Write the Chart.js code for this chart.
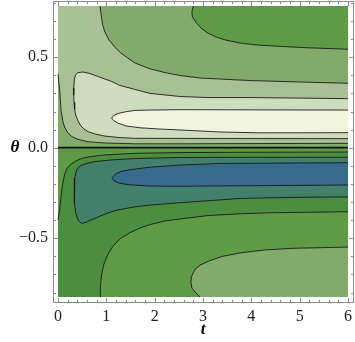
<!DOCTYPE html>
<html>
<head>
<meta charset="utf-8">
<script src="https://cdn.jsdelivr.net/npm/chart.js@4.4.1/dist/chart.umd.min.js"></script>
<style>
  html, body { margin: 0; padding: 0; background: #fff; }
  #wrap { width: 355px; height: 342px; }
</style>
</head>
<body>
<div id="wrap"><canvas id="contour"></canvas></div>
<script>
// plotted range of the contour picture
const tRange = [0, 6];
const thetaRange = [-0.825, 0.783];

// frame ticks
const tTicks = [0, 1, 2, 3, 4, 5, 6];
const tTickLabels = ['0', '1', '2', '3', '4', '5', '6'];
const thetaTicks = [-0.5, 0, 0.5];
const thetaTickLabels = ['\u22120.5', '0.0', '0.5'];

// contour lines, as [t, theta]
const zeroLine = [[0, 0], [6, 0]];
const lineA = [[0, 0.407], [0.04, 0.302], [0.062, 0.208], [0.103, 0.142], [0.145, 0.109], [0.207, 0.081],
  [0.29, 0.061], [0.414, 0.046], [0.62, 0.033], [0.97, 0.026], [1.59, 0.0215], [2.52, 0.0215], [3.97, 0.0227], [6, 0.0243]];
const lineB = [[6, 0.271], [5.0, 0.274], [3.97, 0.277], [3.1, 0.277], [2.52, 0.283], [1.9, 0.30], [1.59, 0.322],
  [1.28, 0.344], [1.11, 0.366], [0.87, 0.389], [0.66, 0.41], [0.517, 0.418], [0.414, 0.415], [0.362, 0.402],
  [0.337, 0.374], [0.327, 0.33], [0.326, 0.29], [0.332, 0.25], [0.345, 0.212], [0.366, 0.181], [0.414, 0.148], [0.466, 0.123],
  [0.538, 0.103], [0.627, 0.088], [0.766, 0.076], [0.97, 0.064], [1.28, 0.056], [1.59, 0.052], [2.94, 0.051], [6, 0.050]];
const lineYellow = [[6, 0.208], [3.97, 0.209], [2.52, 0.21], [1.9, 0.208], [1.59, 0.206], [1.41, 0.199], [1.24, 0.189],
  [1.15, 0.178], [1.11, 0.164], [1.15, 0.150], [1.24, 0.136], [1.41, 0.12], [1.7, 0.11], [2.11, 0.103], [2.52, 0.098],
  [3.35, 0.087], [4.18, 0.082], [6, 0.083]];
const lineTop1 = [[0.869, 0.783], [0.89, 0.739], [0.92, 0.683], [0.97, 0.639], [1.055, 0.595], [1.18, 0.554], [1.3, 0.523],
  [1.43, 0.498], [1.59, 0.468], [1.9, 0.436], [2.21, 0.415], [2.52, 0.399], [2.94, 0.385], [3.97, 0.371], [5.0, 0.363], [6, 0.356]];
const lineTop0 = [[2.8, 0.783], [2.77, 0.751], [2.78, 0.722], [2.87, 0.687], [2.98, 0.656], [3.11, 0.632], [3.27, 0.612],
  [3.46, 0.595], [3.77, 0.578], [4.14, 0.567], [4.66, 0.559], [5.18, 0.552], [6, 0.544]];
const lineC = [[0, -0.399], [0.04, -0.333], [0.062, -0.271], [0.093, -0.206], [0.134, -0.151], [0.186, -0.115], [0.248, -0.096],
  [0.352, -0.076], [0.49, -0.059], [0.7, -0.048], [0.97, -0.040], [1.59, -0.031], [2.52, -0.027], [3.97, -0.025], [6, -0.024]];
const lineTeal = [[6, -0.053], [3.97, -0.053], [2.52, -0.054], [1.59, -0.060], [1.08, -0.068], [0.766, -0.077], [0.58, -0.087],
  [0.455, -0.101], [0.383, -0.123], [0.348, -0.167], [0.337, -0.234], [0.341, -0.306], [0.368, -0.361], [0.42, -0.402],
  [0.49, -0.418], [0.58, -0.412], [0.766, -0.390], [0.95, -0.369], [1.18, -0.347], [1.56, -0.328], [1.9, -0.317],
  [2.52, -0.304], [3.8, -0.280], [5.0, -0.274], [6, -0.272]];
const lineBlue = [[6, -0.083], [4.59, -0.085], [3.35, -0.087], [2.52, -0.096], [1.9, -0.108], [1.53, -0.120], [1.32, -0.130],
  [1.19, -0.145], [1.12, -0.165], [1.16, -0.184], [1.28, -0.197], [1.49, -0.205], [1.9, -0.212], [2.52, -0.213],
  [3.97, -0.210], [6, -0.206]];
const lineLow1 = [[0.869, -0.825], [0.875, -0.775], [0.9, -0.703], [0.95, -0.643], [1.035, -0.587], [1.14, -0.543], [1.28, -0.504],
  [1.49, -0.469], [1.7, -0.444], [1.9, -0.425], [2.21, -0.405], [2.52, -0.394], [3.1, -0.375], [3.77, -0.365], [4.49, -0.359], [6, -0.354]];
const lineLow0 = [[2.94, -0.825], [2.855, -0.803], [2.77, -0.775], [2.75, -0.742], [2.76, -0.712], [2.835, -0.672], [2.94, -0.649],
  [3.11, -0.627], [3.39, -0.601], [3.8, -0.580], [4.28, -0.565], [4.84, -0.556], [6, -0.549]];

// shading per contour band, lowest first
const bandColors = ['#376a8c', '#42806b', '#4b8e40', '#5f9b46', '#81aa6b', '#a9c096', '#cfdcbd', '#f1f5dd'];

const [T0, T1] = tRange;
const [TH0, TH1] = thetaRange;

// filled bands, painted from the bottom layer up
const regions = [
  { band: 4, pts: [[T0, 0], [T1, 0], [T1, TH1], [T0, TH1]] },
  { band: 5, pts: [[T0, TH1], ...lineA, ...lineTop1.slice().reverse()] },
  { band: 6, pts: lineB },
  { band: 7, pts: lineYellow },
  { band: 3, pts: [...lineTop0, [T1, TH1]] },
  { band: 2, pts: [[T0, 0], [T1, 0], [T1, TH0], [T0, TH0]] },
  { band: 3, pts: [[T0, 0], ...lineC, [T1, 0]] },
  { band: 3, pts: [...lineLow1, [T1, TH0]] },
  { band: 4, pts: [...lineLow0, [T1, TH0]] },
  { band: 1, pts: lineTeal },
  { band: 0, pts: lineBlue }
];

const contours = [lineA, lineB, lineYellow, lineTop1, lineTop0, lineC, lineTeal, lineBlue, lineLow1, lineLow0];

const toXY = arr => arr.map(p => ({ x: p[0], y: p[1] }));

const datasets = [];
regions.forEach((r, i) => {
  datasets.push({
    data: toXY(r.pts),
    borderWidth: 0,
    backgroundColor: bandColors[r.band],
    fill: 'shape',
    order: 100 - i
  });
});
contours.forEach(c => {
  datasets.push({
    data: toXY(c),
    borderColor: 'rgba(20,20,20,0.85)',
    borderWidth: 1,
    fill: false,
    order: 2
  });
});
datasets.push({
  data: toXY(zeroLine),
  borderColor: '#111',
  borderWidth: 1.8,
  fill: false,
  order: 1
});

const framePlugin = {
  id: 'frame',
  afterDraw(chart) {
    const { ctx, chartArea: a, scales: { x, y } } = chart;
    ctx.save();
    ctx.strokeStyle = '#8c8c8c';
    ctx.lineWidth = 1;
    ctx.strokeRect(a.left + 0.5, a.top + 0.5, a.right - a.left - 1, a.bottom - a.top - 1);
    ctx.beginPath();
    for (let k = 0; k <= 30; k++) {
      const px = Math.round(x.getPixelForValue(k * 0.2)) + 0.5;
      const len = k % 5 === 0 ? 5 : 3;
      ctx.moveTo(px, a.bottom); ctx.lineTo(px, a.bottom - len);
      ctx.moveTo(px, a.top); ctx.lineTo(px, a.top + len);
    }
    for (let k = -8; k <= 8; k++) {
      const py = Math.round(y.getPixelForValue(k * 0.1)) + 0.5;
      const len = k % 5 === 0 ? 5 : 3;
      ctx.moveTo(a.left, py); ctx.lineTo(a.left + len, py);
      ctx.moveTo(a.right, py); ctx.lineTo(a.right - len, py);
    }
    ctx.stroke();
    ctx.fillStyle = '#000';
    ctx.font = 'italic bold 17px "Liberation Serif"';
    ctx.textAlign = 'center';
    ctx.textBaseline = 'middle';
    ctx.fillText('\u03b8', 15, y.getPixelForValue(0));
    ctx.fillText('t', x.getPixelForValue(3), 330);
    ctx.restore();
  }
};

const noPad = s => { s.paddingTop = 0; s.paddingBottom = 0; s.paddingLeft = 0; s.paddingRight = 0; };

new Chart(document.getElementById('contour'), {
  type: 'line',
  data: { datasets: datasets },
  options: {
    responsive: true,
    maintainAspectRatio: false,
    animation: false,
    events: [],
    layout: { padding: { top: 1, right: 1, left: 0, bottom: 0 } },
    elements: { point: { radius: 0 }, line: { tension: 0 } },
    plugins: { legend: { display: false }, tooltip: { enabled: false } },
    scales: {
      x: {
        type: 'linear',
        min: -0.1034,
        max: 6.124,
        grid: { display: true, drawOnChartArea: false, drawTicks: false, tickLength: 0 },
        border: { display: false },
        afterBuildTicks: s => { s.ticks = tTicks.map(v => ({ value: v })); },
        afterFit: s => { s.height = 39; noPad(s); },
        ticks: {
          padding: 4,
          color: '#222',
          font: { family: 'Liberation Serif', size: 16 },
          maxRotation: 0,
          callback: (v, i) => tTickLabels[i]
        }
      },
      y: {
        type: 'linear',
        min: -0.858,
        max: 0.8105,
        grid: { display: true, drawOnChartArea: false, drawTicks: false, tickLength: 0 },
        border: { display: false },
        afterBuildTicks: s => { s.ticks = thetaTicks.map(v => ({ value: v })); },
        afterFit: s => { s.width = 53; noPad(s); },
        ticks: {
          padding: 5,
          color: '#222',
          font: { family: 'Liberation Serif', size: 16 },
          callback: (v, i) => thetaTickLabels[i]
        }
      }
    }
  },
  plugins: [framePlugin]
});
</script>
</body>
</html>
